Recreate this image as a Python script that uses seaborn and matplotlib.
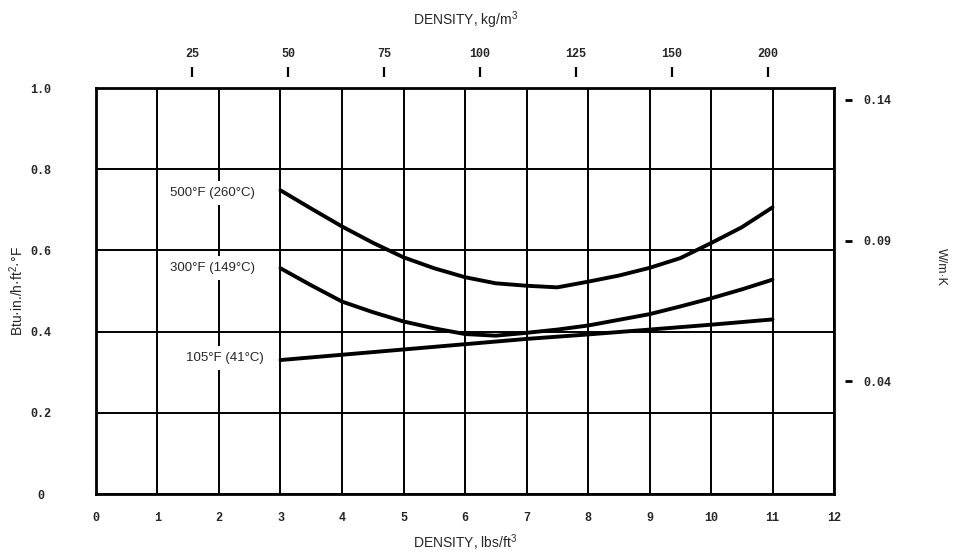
import matplotlib
matplotlib.use("Agg")
import matplotlib.pyplot as plt
import numpy as np
import pandas as pd
import seaborn as sns

# ---------------- data ----------------
density_curve = [3, 3.5, 4, 4.5, 5, 5.5, 6, 6.5, 7, 7.5, 8, 8.5, 9, 9.5, 10, 10.5, 11]
k_500F = [0.748, 0.703, 0.659, 0.619, 0.583, 0.556, 0.534, 0.519, 0.513, 0.509, 0.523,
          0.538, 0.557, 0.581, 0.618, 0.657, 0.706]
k_300F = [0.556, 0.514, 0.474, 0.448, 0.425, 0.408, 0.394, 0.390, 0.397, 0.405, 0.415,
          0.429, 0.443, 0.462, 0.482, 0.504, 0.528]
density_105 = [3, 4, 5, 6, 7, 8, 9, 10, 11]
k_105F = [0.330, 0.343, 0.356, 0.369, 0.382, 0.393, 0.405, 0.417, 0.430]
series_labels = ["500°F (260°C)", "300°F (149°C)", "105°F (41°C)"]

x_ticks = list(range(13))
x_tick_labels = [str(v) for v in x_ticks]
y_ticks = [0, 0.2, 0.4, 0.6, 0.8, 1.0]
y_tick_labels = ["0", "0.2", "0.4", "0.6", "0.8", "1.0"]
top_ticks_kg = [25, 50, 75, 100, 125, 150, 175]
top_tick_labels = ["25", "50", "75", "100", "125", "150", "200"]
right_ticks_w = [0.04, 0.09, 0.14]
right_tick_labels = ["0.04", "0.09", "0.14"]

LB_TO_KG = 16.018      # lb/ft3 -> kg/m3
BTU_TO_W = 0.1442      # Btu.in/h.ft2.F -> W/m.K

df = pd.concat([
    pd.DataFrame({"density": density_curve, "k": k_500F, "series": series_labels[0]}),
    pd.DataFrame({"density": density_curve, "k": k_300F, "series": series_labels[1]}),
    pd.DataFrame({"density": density_105, "k": k_105F, "series": series_labels[2]}),
], ignore_index=True)

# ---------------- style ----------------
sns.set_style("white")
plt.rcParams["font.family"] = ["Liberation Sans", "DejaVu Sans"]
plt.rcParams["mathtext.default"] = "regular"
MONO = "Liberation Mono"

fig = plt.figure(figsize=(9.57, 5.55), dpi=100)
ax = fig.add_axes([0.1003, 0.1099, 0.7712, 0.7315])

sns.lineplot(data=df, x="density", y="k", hue="series", hue_order=series_labels,
             palette=["black"] * 3, linewidth=2.8, legend=False, ax=ax,
             sort=False, estimator=None)

ax.set_xlim(0, 12)
ax.set_ylim(0, 1.0)
ax.set_xticks(x_ticks, x_tick_labels, family=MONO, fontsize=8.5, fontweight="bold")
ax.set_yticks(y_ticks, y_tick_labels, family=MONO, fontsize=8.5, fontweight="bold", ha="center")
ax.tick_params(axis="x", length=0, pad=13)
ax.tick_params(axis="y", length=0, pad=40)
ax.grid(True, color="black", linewidth=1.4)
ax.set_axisbelow(True)
for sp in ax.spines.values():
    sp.set_visible(True)
    sp.set_color("black")
    sp.set_linewidth(2)

ax.set_xlabel("DENSITY, lbs/ft$^3$", fontsize=10, labelpad=6)
ax.set_ylabel("Btu·in./h·ft$^2$·°F", fontsize=10, labelpad=3)

# curve labels
for (lx, ly), txt in zip([(1.9, 0.741), (1.9, 0.557), (2.1, 0.335)], series_labels):
    ax.text(lx, ly, txt, ha="center", va="center", fontsize=9.5, zorder=5,
            bbox=dict(boxstyle="square,pad=0.45", facecolor="white", edgecolor="none"))

# top axis (kg/m3)
secx = ax.secondary_xaxis(1.027, functions=(lambda x: x * LB_TO_KG, lambda x: x / LB_TO_KG))
secx.set_xticks(top_ticks_kg, top_tick_labels, family=MONO, fontsize=8.5, fontweight="bold")
secx.tick_params(axis="x", direction="out", length=7, width=1.6, pad=5, color="black")
for sp in secx.spines.values():
    sp.set_visible(False)
secx.set_xlabel("DENSITY, kg/m$^3$", fontsize=10, labelpad=17)

# right axis (W/m.K)
secy = ax.secondary_yaxis(1.015, functions=(lambda v: v * BTU_TO_W, lambda v: v / BTU_TO_W))
secy.set_yticks(right_ticks_w, right_tick_labels, family=MONO, fontsize=8.5, fontweight="bold")
secy.tick_params(axis="y", direction="out", length=5, width=2, pad=8, color="black")
for sp in secy.spines.values():
    sp.set_visible(False)
secy.set_ylabel("W/m·K", fontsize=9, rotation=270, labelpad=40)
secy.yaxis.label.set_y(0.56)

fig.savefig("out.png", dpi=100, facecolor="white")
